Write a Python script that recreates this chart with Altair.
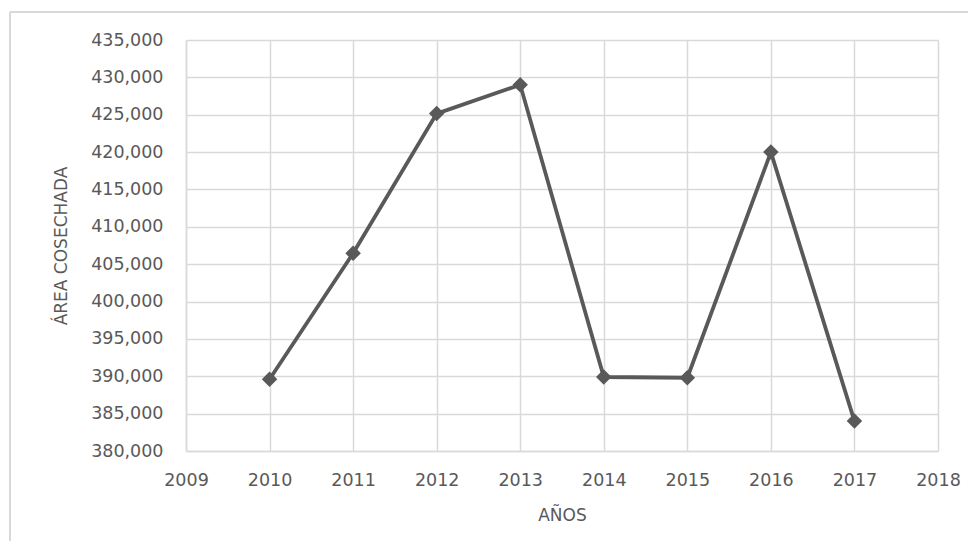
import altair as alt
import pandas as pd

years = [2010, 2011, 2012, 2013, 2014, 2015, 2016, 2017]
area = [389600, 406450, 425150, 429000, 389900, 389800, 420000, 384000]
y_ticks = [380000, 385000, 390000, 395000, 400000, 405000, 410000, 415000,
           420000, 425000, 430000, 435000]
x_ticks = [2009, 2010, 2011, 2012, 2013, 2014, 2015, 2016, 2017, 2018]

df = pd.DataFrame({"year": years, "area": area})

FONT = "DejaVu Sans"
TXT = "#595959"
GRID = "#d9d9d9"
W, H = 752, 411

x = alt.X("year:Q", scale=alt.Scale(domain=[2009, 2018], nice=False, zero=False),
          axis=alt.Axis(values=x_ticks, format="d", title="AÑOS",
                        titleX=W / 2, titleY=64, titleBaseline="middle",
                        labelPadding=20, ticks=False, labelFlush=False))
y = alt.Y("area:Q", scale=alt.Scale(domain=[380000, 435000], nice=False, zero=False),
          axis=alt.Axis(values=y_ticks, format=",d", title="ÁREA COSECHADA",
                        titleX=-125, titleY=H / 2, titleBaseline="middle",
                        titleAngle=-90, titleAlign="center",
                        labelPadding=23, ticks=False, labelFlush=False))

line = alt.Chart(df).mark_line(
    color=TXT, strokeWidth=3.8,
    point=alt.OverlayMarkDef(shape="diamond", size=240, filled=True, color=TXT, opacity=1),
).encode(x=x, y=y)

border_top = alt.Chart(df).mark_rule(color=GRID, strokeWidth=1.5).encode(
    x=alt.value(-176), x2=alt.value(800), y=alt.value(-28))
border_left = alt.Chart(df).mark_rule(color=GRID, strokeWidth=1.5).encode(
    x=alt.value(-176), y=alt.value(-28), y2=alt.value(530))

chart = alt.layer(border_top, border_left, line).properties(
    width=W, height=H,
    background="white",
    autosize=alt.AutoSizeParams(type="none"),
    padding={"left": 178, "top": 32, "right": 30, "bottom": 90},
).configure_view(stroke=None).configure_axis(
    grid=True, gridColor=GRID, gridWidth=1.5,
    domainColor=GRID, domainWidth=1.5,
    labelFont=FONT, labelFontSize=17.5, labelColor=TXT,
    titleFont=FONT, titleFontSize=17, titleColor=TXT, titleFontWeight="normal",
)

chart.save("out.html", embed_options={"renderer": "svg", "actions": False})
